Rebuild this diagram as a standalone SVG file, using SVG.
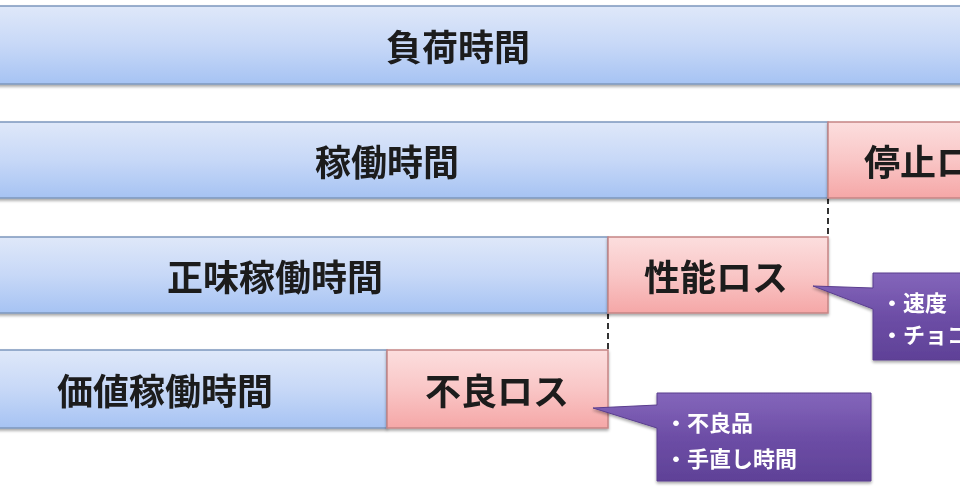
<svg xmlns="http://www.w3.org/2000/svg" width="960" height="502" viewBox="0 0 960 502">
<defs>
<linearGradient id="gb" x1="0" y1="0" x2="0" y2="1">
<stop offset="0" stop-color="#dfe8f9"/>
<stop offset="0.5" stop-color="#c7d8f7"/>
<stop offset="1" stop-color="#a6c3f3"/>
</linearGradient>
<linearGradient id="gp" x1="0" y1="0" x2="0" y2="1">
<stop offset="0" stop-color="#fcdede"/>
<stop offset="0.5" stop-color="#f9c6c6"/>
<stop offset="1" stop-color="#f5a7a7"/>
</linearGradient>
<linearGradient id="gv" x1="0" y1="0" x2="0" y2="1">
<stop offset="0" stop-color="#8466bb"/>
<stop offset="0.5" stop-color="#6d4ea6"/>
<stop offset="1" stop-color="#5f4197"/>
</linearGradient>
<filter id="sh" x="-5%" y="-10%" width="110%" height="130%">
<feGaussianBlur in="SourceAlpha" stdDeviation="1.5"/>
<feOffset dy="2" result="b"/>
<feComponentTransfer><feFuncA type="linear" slope="0.35"/></feComponentTransfer>
<feMerge><feMergeNode/><feMergeNode in="SourceGraphic"/></feMerge>
</filter>
</defs>
<style>
.blue{fill:url(#gb);stroke:#7d97bd;stroke-width:1.5}
.pink{fill:url(#gp);stroke:#c58585;stroke-width:1.5}
.call{fill:url(#gv);stroke:#5a3e8e;stroke-width:1}
.t{font-family:"Noto Sans CJK JP","Noto Sans CJK SC",sans-serif;font-size:36px;font-weight:bold;fill:#1a1a1a;text-anchor:middle;dominant-baseline:central}
.ts{font-family:"Noto Sans CJK JP","Noto Sans CJK SC",sans-serif;font-size:22px;font-weight:bold;fill:#ffffff}
.dash{stroke:#333;stroke-width:2;stroke-dasharray:6 4;fill:none}
</style>
<rect width="960" height="502" fill="#ffffff"/>
<g id="connectors">
<line class="dash" x1="828" y1="198" x2="828" y2="237"/>
<line class="dash" x1="608" y1="313" x2="608" y2="350"/>
</g>
<g id="n-fuka" filter="url(#sh)">
<rect class="blue" x="-5" y="6" width="975" height="78"/>
<text class="t" x="458" y="45">負荷時間</text>
</g>
<g id="n-kado" filter="url(#sh)">
<rect class="blue" x="-5" y="122" width="833" height="76"/>
<text class="t" x="387" y="160">稼働時間</text>
</g>
<g id="n-teishi" filter="url(#sh)">
<rect class="pink" x="828" y="122" width="142" height="76"/>
<text class="t" x="864" y="160" style="text-anchor:start">停止ロ</text>
</g>
<g id="n-shomi" filter="url(#sh)">
<rect class="blue" x="-5" y="237" width="613" height="76"/>
<text class="t" x="275" y="275">正味稼働時間</text>
</g>
<g id="n-seino" filter="url(#sh)">
<rect class="pink" x="608" y="237" width="220" height="76"/>
<text class="t" x="716" y="275">性能ロス</text>
</g>
<g id="n-kachi" filter="url(#sh)">
<rect class="blue" x="-5" y="350" width="392" height="78"/>
<text class="t" x="165" y="389">価値稼働時間</text>
</g>
<g id="n-furyo" filter="url(#sh)">
<rect class="pink" x="387" y="350" width="221" height="78"/>
<text class="t" x="497" y="389">不良ロス</text>
</g>
<g id="c-seino" filter="url(#sh)">
<path class="call" d="M873,273 H970 V360 H873 V309 L813,286 L873,288 Z"/>
<text class="ts" x="881" y="311">・速度</text>
<text class="ts" x="881" y="343">・チョコ</text>
</g>
<g id="c-furyo" filter="url(#sh)">
<path class="call" d="M657,393 H871 V481 H657 V428 L593,408 L657,405 Z"/>
<text class="ts" x="665" y="431">・不良品</text>
<text class="ts" x="665" y="467">・手直し時間</text>
</g>
</svg>
